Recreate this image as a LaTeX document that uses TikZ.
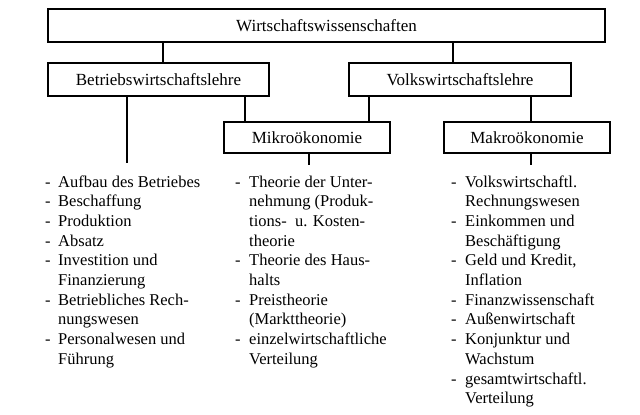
\documentclass[tikz,border=0pt]{standalone}
\usepackage{fontspec}
\setmainfont{Liberation Serif}
\begin{document}
\begin{tikzpicture}[x=1pt,y=-1pt,
  box/.style={draw,line width=1.1pt,inner sep=0,font=\fontsize{17}{19}\selectfont},
  item/.style={anchor=base west,inner sep=0,font=\fontsize{16.5}{19}\selectfont},
  conn/.style={line width=1.1pt}]
\useasboundingbox (0,0) rectangle (640,415);
\node[box,minimum width=557pt,minimum height=33pt] (W) at (326.5,25.5) {Wirtschaftswissenschaften};
\node[box,minimum width=221pt,minimum height=33pt] (B) at (158.5,79.5) {Betriebswirtschaftslehre};
\node[box,minimum width=222pt,minimum height=33pt] (V) at (460,79.5) {Volkswirtschaftslehre};
\node[box,minimum width=166pt,minimum height=31pt] (Mi) at (307,137.5) {Mikroökonomie};
\node[box,minimum width=166pt,minimum height=31pt] (Ma) at (527,137.5) {Makroökonomie};
\coordinate (bl) at (127,163);
\coordinate (mil) at (309,165);
\coordinate (mal) at (531,165);
\draw[conn] (W.south -| 163,0) -- (B.north -| 163,0);
\draw[conn] (W.south -| 453,0) -- (V.north -| 453,0);
\draw[conn] (B.south -| bl) -- (bl);
\draw[conn] (B.south -| 245,0) -- (Mi.north -| 245,0);
\draw[conn] (V.south -| 369,0) -- (Mi.north -| 369,0);
\draw[conn] (V.south -| mal) -- (Ma.north -| mal);
\draw[conn] (Mi.south -| mil) -- (mil);
\draw[conn] (Ma.south -| mal) -- (mal);
% left column
\foreach \t [count=\i] in {Aufbau des Betriebes,Beschaffung,Produktion,Absatz,Investition und,Finanzierung,Betriebliches Rech-,nungswesen,Personalwesen und,Führung}
  \node[item] (a\i) at (58,{187+(\i-1)*19.7}) {\t};
\foreach \i in {1,2,3,4,5,7,9}
  \node[item] (ad\i) at (45,{187+(\i-1)*19.7}) {-};
% middle column
\foreach \t [count=\i] in {Theorie der Unter-,nehmung (Produk-,tions-\ \ u. Kosten-,theorie,Theorie des Haus-,halts,Preistheorie,(Markttheorie),einzelwirtschaftliche,Verteilung}
  \node[item] (b\i) at (249,{187+(\i-1)*19.7}) {\t};
\foreach \i in {1,5,7,9}
  \node[item] (bd\i) at (235,{187+(\i-1)*19.7}) {-};
% right column
\foreach \t [count=\i] in {Volkswirtschaftl.,Rechnungswesen,Einkommen und,Beschäftigung,{Geld und Kredit,},Inflation,Finanzwissenschaft,Außenwirtschaft,Konjunktur und,Wachstum,gesamtwirtschaftl.,Verteilung}
  \node[item] (c\i) at (465,{187+(\i-1)*19.7}) {\t};
\foreach \i in {1,3,5,7,8,9,11}
  \node[item] (cd\i) at (451,{187+(\i-1)*19.7}) {-};
\end{tikzpicture}
\end{document}
